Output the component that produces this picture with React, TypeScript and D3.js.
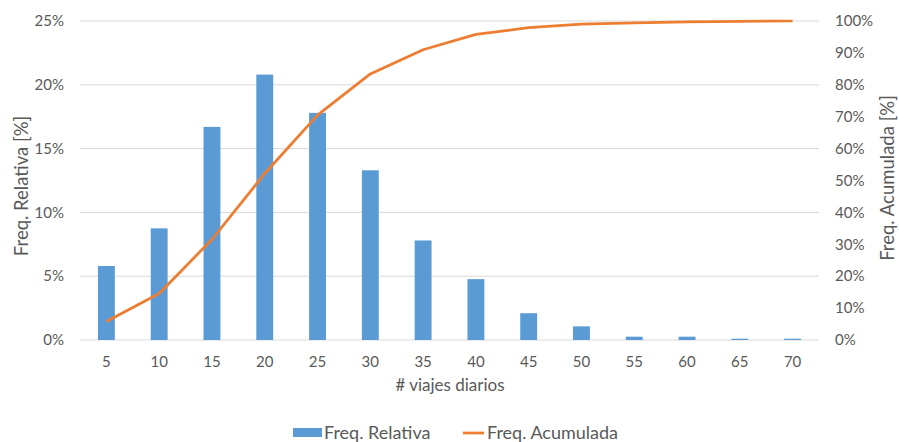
import React from "react";
import * as d3 from "d3";

const categories = ["5", "10", "15", "20", "25", "30", "35", "40", "45", "50", "55", "60", "65", "70"];
const relativa = [5.8, 8.75, 16.7, 20.8, 17.8, 13.3, 7.8, 4.77, 2.1, 1.07, 0.26, 0.26, 0.1, 0.1];
const acumulada = [5.8, 14.6, 31.5, 52.2, 70.5, 83.4, 91.0, 95.8, 97.9, 99.0, 99.4, 99.7, 99.9, 100];
const leftTicks = [0, 5, 10, 15, 20, 25];
const rightTicks = [0, 10, 20, 30, 40, 50, 60, 70, 80, 90, 100];

const W = 899;
const H = 442;
const M = { left: 80, right: 80, top: 21, bottom: 102 };
const FONT = "Lato, 'Open Sans', sans-serif";
const TXT = "#595959";

export default function App() {
  const x = d3
    .scaleBand<string>()
    .domain(categories)
    .range([M.left, W - M.right])
    .paddingInner(0.68)
    .paddingOuter(0.34);
  const yL = d3.scaleLinear().domain([0, 25]).range([H - M.bottom, M.top]);
  const yR = d3.scaleLinear().domain([0, 100]).range([H - M.bottom, M.top]);
  const cx = (c: string) => (x(c) as number) + x.bandwidth() / 2;
  const line = d3
    .line<number>()
    .x((_, i) => cx(categories[i]))
    .y((d) => yR(d));

  return (
    <svg width={W} height={H} style={{ position: "absolute", left: 0, top: 0, background: "#fff" }}>
      {leftTicks.map((t) => (
        <g key={"l" + t}>
          <line x1={M.left} x2={W - M.right} y1={yL(t)} y2={yL(t)} stroke="#d9d9d9" strokeWidth={1} />
          <text x={M.left - 16} y={yL(t)} dy="0.35em" textAnchor="end" fontFamily={FONT} fontSize={15} fill={TXT}>
            {t}%
          </text>
        </g>
      ))}
      {rightTicks.map((t) => (
        <text key={"r" + t} x={W - M.right + 16} y={yR(t)} dy="0.35em" textAnchor="start" fontFamily={FONT} fontSize={15} fill={TXT}>
          {t}%
        </text>
      ))}
      {categories.map((c, i) => (
        <rect key={c} x={x(c)} y={yL(relativa[i])} width={x.bandwidth()} height={yL(0) - yL(relativa[i])} fill="#5b9bd5" />
      ))}
      <path d={line(acumulada) || ""} fill="none" stroke="#ed7d31" strokeWidth={2.75} strokeLinejoin="round" />
      {categories.map((c) => (
        <text key={"x" + c} x={cx(c)} y={362} dy="0.35em" textAnchor="middle" fontFamily={FONT} fontSize={15} fill={TXT}>
          {c}
        </text>
      ))}
      <text x={450} y={385} dy="0.35em" textAnchor="middle" fontFamily={FONT} fontSize={17} fill={TXT}>
        # viajes diarios
      </text>
      <text transform={`translate(22,186) rotate(-90)`} dy="0.35em" textAnchor="middle" fontFamily={FONT} fontSize={18.5} fill={TXT}>
        Freq. Relativa [%]
      </text>
      <text transform={`translate(888,178) rotate(-90)`} dy="0.35em" textAnchor="middle" fontFamily={FONT} fontSize={18.5} fill={TXT}>
        Freq. Acumulada [%]
      </text>
      <g>
        <rect x={293} y={428} width={29} height={9} fill="#5b9bd5" />
        <text x={324} y={433} dy="0.35em" fontFamily={FONT} fontSize={18} fill={TXT}>
          Freq. Relativa
        </text>
        <line x1={463} x2={484} y1={433} y2={433} stroke="#ed7d31" strokeWidth={2.75} />
        <text x={487} y={433} dy="0.35em" fontFamily={FONT} fontSize={18} fill={TXT}>
          Freq. Acumulada
        </text>
      </g>
    </svg>
  );
}
